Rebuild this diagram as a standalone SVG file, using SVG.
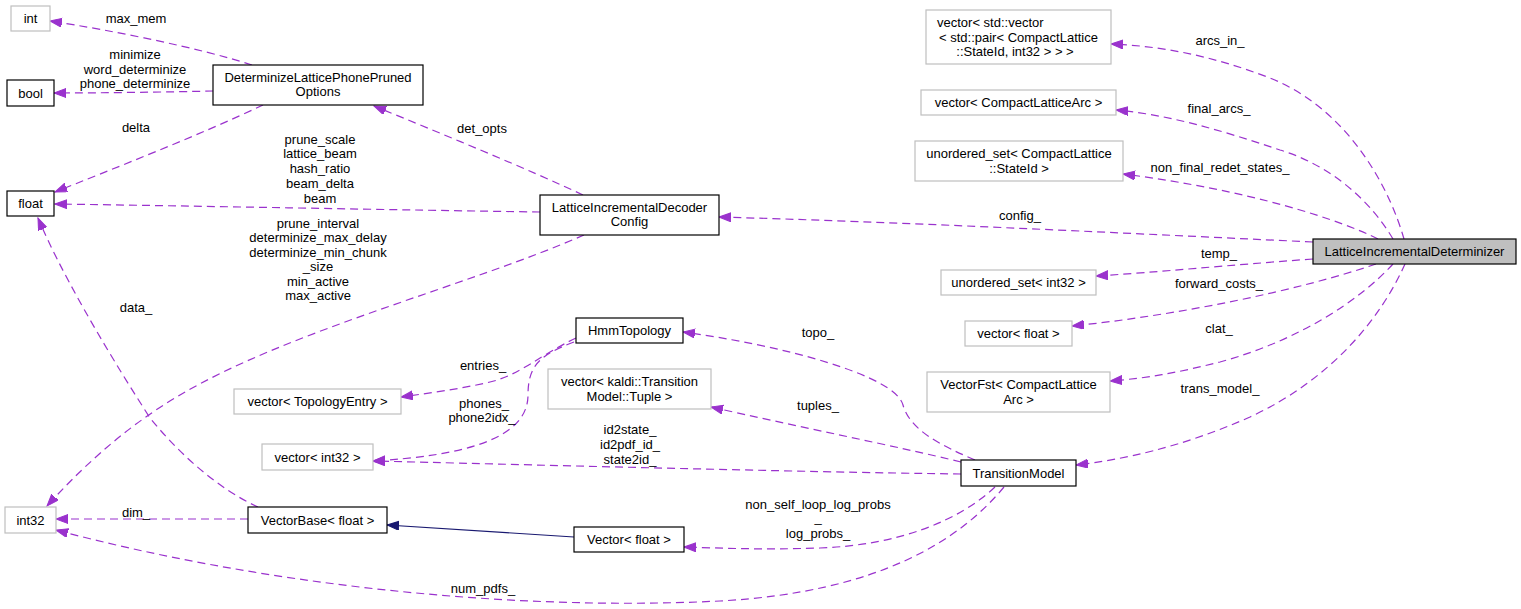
<svg xmlns="http://www.w3.org/2000/svg" width="1521" height="609" viewBox="0 0 1521 609">
<style>
text{font-family:"Liberation Sans",Arial,sans-serif;font-size:13px;fill:#000}
.m{text-anchor:middle}
.nb{fill:#fff;stroke:#000;stroke-width:1.2}
.ng{fill:#fff;stroke:#bfbfbf;stroke-width:1.2}
.nf{fill:#bfbfbf;stroke:#000;stroke-width:1.2}
.e{fill:none;stroke:#9a32cd;stroke-width:1.2;stroke-dasharray:8,5;marker-end:url(#ap)}
.i{fill:none;stroke:#191970;stroke-width:1.2;marker-end:url(#an)}
</style>
<defs>
<marker id="ap" markerUnits="userSpaceOnUse" markerWidth="13" markerHeight="10" refX="12" refY="4.5" orient="auto">
<path d="M0,0 L12,4.5 L0,9 z" fill="#9a32cd" stroke="#9a32cd"/>
</marker>
<marker id="an" markerUnits="userSpaceOnUse" markerWidth="13" markerHeight="10" refX="12" refY="4.5" orient="auto">
<path d="M0,0 L12,4.5 L0,9 z" fill="#191970" stroke="#191970"/>
</marker>
</defs>
<rect width="1521" height="609" fill="#fff"/>

<g id="edges">
<path class="e" d="M252,65 C200,48 110,30 50,21"/>
<path class="e" d="M213,91 C170,92 100,93 54,93"/>
<path class="e" d="M263,105 C200,135 110,170 55,192"/>
<path class="e" d="M583,195 C530,170 440,133 374,106"/>
<path class="e" d="M540,212 C400,210 200,206 55,204"/>
<path class="e" d="M584,235 C470,285 290,330 180,395 C120,430 75,475 47,506"/>
<path class="e" d="M258,507 C220,490 180,455 150,418 C100,340 60,270 38,218"/>
<path class="e" d="M248,519 L56,519"/>
<path class="e" d="M1004,487 C960,540 880,592 720,601 C500,612 250,582 56,530"/>
<path class="e" d="M995,487 C960,520 900,545 820,548 C760,550 720,548 684,547"/>
<path class="e" d="M961,474 C800,472 500,464 373,461"/>
<path class="e" d="M961,462 C900,447 790,425 711,407"/>
<path class="e" d="M975,460 C940,445 910,430 903,405 C895,375 780,345 683,332"/>
<path class="e" d="M576,338 C540,355 520,375 490,382 C460,389 430,393 401,397"/>
<path class="e" d="M574,342 C540,355 528,365 528,395 C528,440 460,456 373,461"/>
<path class="e" d="M1404,239 C1390,190 1350,110 1270,78 C1210,55 1160,46 1111,44"/>
<path class="e" d="M1393,239 C1370,200 1330,165 1280,150 C1220,130 1170,115 1116,110"/>
<path class="e" d="M1378,239 C1340,220 1250,190 1123,174"/>
<path class="e" d="M1313,242 C1100,232 900,222 719,217"/>
<path class="e" d="M1313,259 C1230,265 1160,272 1096,276"/>
<path class="e" d="M1376,264 C1300,290 1180,315 1072,326"/>
<path class="e" d="M1393,264 C1360,300 1300,340 1220,362 C1180,372 1150,378 1110,381"/>
<path class="e" d="M1405,264 C1380,320 1330,380 1250,417 C1180,448 1120,460 1076,465"/>
<path class="i" d="M574,537 L387,525"/>

<text class="m" x="136" y="23">max_mem</text>
<text class="m" x="135" y="58.5">minimize</text>
<text class="m" x="135" y="73.5">word_determinize</text>
<text class="m" x="135" y="88">phone_determinize</text>
<text class="m" x="136" y="131.5">delta</text>
<text class="m" x="482" y="132.5">det_opts</text>
<text class="m" x="320" y="143.5">prune_scale</text>
<text class="m" x="320" y="158.2">lattice_beam</text>
<text class="m" x="320" y="173">hash_ratio</text>
<text class="m" x="320" y="187.7">beam_delta</text>
<text class="m" x="320" y="202.5">beam</text>
<text class="m" x="318" y="227.5">prune_interval</text>
<text class="m" x="318" y="242">determinize_max_delay</text>
<text class="m" x="318" y="256.5">determinize_min_chunk</text>
<text class="m" x="318" y="271">_size</text>
<text class="m" x="318" y="285.5">min_active</text>
<text class="m" x="318" y="300">max_active</text>
<text class="m" x="136" y="311.5">data_</text>
<text class="m" x="136" y="516.5">dim_</text>
<text class="m" x="483" y="369.5">entries_</text>
<text class="m" x="484" y="407.5">phones_</text>
<text class="m" x="482" y="421.5">phone2idx_</text>
<text class="m" x="630" y="433.5">id2state_</text>
<text class="m" x="630" y="448.5">id2pdf_id_</text>
<text class="m" x="630" y="463.5">state2id_</text>
<text class="m" x="818" y="336.5">topo_</text>
<text class="m" x="818" y="409.5">tuples_</text>
<text class="m" x="818" y="508.5">non_self_loop_log_probs</text>
<text class="m" x="818" y="522">_</text>
<text class="m" x="818" y="537.5">log_probs_</text>
<text class="m" x="483" y="592.5">num_pdfs_</text>
<text class="m" x="1220" y="44.5">arcs_in_</text>
<text class="m" x="1219" y="112.5">final_arcs_</text>
<text class="m" x="1220" y="171.5">non_final_redet_states_</text>
<text class="m" x="1020" y="219.5">config_</text>
<text class="m" x="1219" y="257.5">temp_</text>
<text class="m" x="1219" y="287.5">forward_costs_</text>
<text class="m" x="1219" y="332.5">clat_</text>
<text class="m" x="1220" y="392.5">trans_model_</text>
</g>

<g id="LatticeIncrementalDeterminizer"><rect class="nf" x="1313" y="239" width="203" height="25"/><text class="m" x="1414.5" y="256">LatticeIncrementalDeterminizer</text></g>
<g id="vector_std_vector"><rect class="ng" x="926" y="10" width="185" height="54"/><text x="937" y="26.5">vector&lt; std::vector</text><text class="m" x="1018.5" y="41.5">&lt; std::pair&lt; CompactLattice</text><text class="m" x="1015" y="55.5">::StateId, int32 &gt; &gt; &gt;</text></g>
<g id="vector_CompactLatticeArc"><rect class="ng" x="921" y="90" width="195" height="25"/><text class="m" x="1018.5" y="107">vector&lt; CompactLatticeArc &gt;</text></g>
<g id="unordered_set_StateId"><rect class="ng" x="915" y="141" width="208" height="40"/><text class="m" x="1019" y="157.5">unordered_set&lt; CompactLattice</text><text class="m" x="1019" y="172.5">::StateId &gt;</text></g>
<g id="unordered_set_int32"><rect class="ng" x="941" y="270" width="155" height="25"/><text class="m" x="1018.5" y="287">unordered_set&lt; int32 &gt;</text></g>
<g id="vector_float"><rect class="ng" x="965" y="321" width="107" height="25"/><text class="m" x="1018.5" y="338">vector&lt; float &gt;</text></g>
<g id="VectorFst"><rect class="ng" x="927" y="372" width="183" height="40"/><text class="m" x="1018.5" y="388.5">VectorFst&lt; CompactLattice</text><text class="m" x="1018.5" y="403.5">Arc &gt;</text></g>
<g id="TransitionModel"><rect class="nb" x="961" y="460" width="115" height="26"/><text class="m" x="1018.5" y="478">TransitionModel</text></g>
<g id="LatticeIncrementalDecoderConfig"><rect class="nb" x="540" y="195" width="179" height="40"/><text class="m" x="629.5" y="211.5">LatticeIncrementalDecoder</text><text class="m" x="629.5" y="226">Config</text></g>
<g id="DeterminizeLatticePhonePrunedOptions"><rect class="nb" x="213" y="65" width="210" height="40"/><text class="m" x="318" y="81.5">DeterminizeLatticePhonePruned</text><text class="m" x="318" y="96">Options</text></g>
<g id="HmmTopology"><rect class="nb" x="576" y="318" width="107" height="25"/><text class="m" x="629.5" y="335">HmmTopology</text></g>
<g id="vector_TopologyEntry"><rect class="ng" x="234" y="389" width="167" height="25"/><text class="m" x="317.5" y="406">vector&lt; TopologyEntry &gt;</text></g>
<g id="vector_Tuple"><rect class="ng" x="548" y="369" width="163" height="40"/><text class="m" x="629.5" y="385.5">vector&lt; kaldi::Transition</text><text class="m" x="629.5" y="400.5">Model::Tuple &gt;</text></g>
<g id="vector_int32"><rect class="ng" x="262" y="444" width="111" height="26"/><text class="m" x="317.5" y="462">vector&lt; int32 &gt;</text></g>
<g id="VectorBase_float"><rect class="nb" x="248" y="507" width="139" height="26"/><text class="m" x="317.5" y="524.5">VectorBase&lt; float &gt;</text></g>
<g id="Vector_float"><rect class="nb" x="574" y="527" width="110" height="25"/><text class="m" x="629" y="544">Vector&lt; float &gt;</text></g>
<g id="int"><rect class="ng" x="11" y="6" width="39" height="25"/><text class="m" x="30.5" y="23">int</text></g>
<g id="bool"><rect class="nb" x="7" y="80" width="47" height="26"/><text class="m" x="30.5" y="97.5">bool</text></g>
<g id="float"><rect class="nb" x="7" y="191" width="47" height="25"/><text class="m" x="30.5" y="208">float</text></g>
<g id="int32"><rect class="ng" x="5" y="507" width="51" height="26"/><text class="m" x="30.5" y="524.5">int32</text></g>
</svg>
